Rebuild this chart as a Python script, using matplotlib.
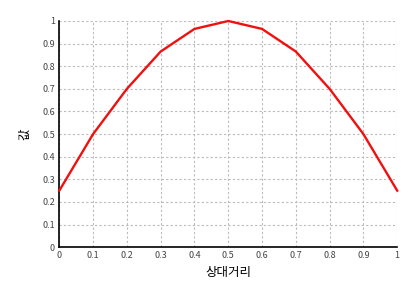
import numpy as np
import matplotlib
matplotlib.use('Agg')
import matplotlib.pyplot as plt

plt.rcParams['font.family'] = ['Noto Sans CJK KR', 'DejaVu Sans']

# 상대거리에 따른 값
x = [0, 0.1, 0.2, 0.3, 0.4, 0.5, 0.6, 0.7, 0.8, 0.9, 1.0]
y = [0.25, 0.5, 0.7, 0.865, 0.965, 1.0, 0.965, 0.865, 0.7, 0.5, 0.25]

ticks = np.round(np.arange(0, 1.01, 0.1), 1)
tick_labels = ['0', '0.1', '0.2', '0.3', '0.4', '0.5', '0.6', '0.7', '0.8', '0.9', '1']

fig = plt.figure(figsize=(4.19, 3.0), dpi=100)
ax = fig.add_axes([0.1415, 0.176, 0.8065, 0.754])

ax.plot(x, y, color='#f01010', linewidth=1.7, zorder=3, clip_on=False)

ax.set_xlim(0, 1)
ax.set_ylim(0, 1)
ax.set_xticks(ticks)
ax.set_yticks(ticks)
ax.set_xticklabels(tick_labels)
ax.set_yticklabels(tick_labels)
ax.tick_params(length=0, labelsize=6.5, colors='#444444', pad=3)

ax.grid(True, color='#bbbbbb', linestyle='--', linewidth=0.8, dashes=(2, 2))
for s in ['top', 'right']:
    ax.spines[s].set_visible(False)
for s in ['left', 'bottom']:
    ax.spines[s].set_color('black')
    ax.spines[s].set_linewidth(1.2)

ax.set_xlabel('상대거리', fontsize=9, labelpad=4)
ax.set_ylabel('값', fontsize=9, labelpad=8)

fig.savefig('out.png', dpi=100)
